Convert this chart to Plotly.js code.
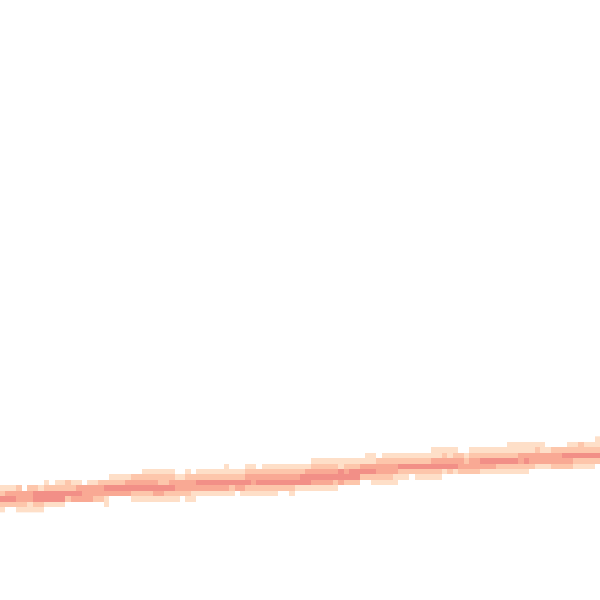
<!DOCTYPE html>
<html>
<head>
<meta charset="utf-8">
<script src="https://cdn.plot.ly/plotly-3.0.1.min.js"></script>
<style>html,body{margin:0;padding:0;background:#fff;}#chart{width:600px;height:600px;}</style>
</head>
<body>
<div id="chart"></div>
<script>
// grid rows (top = 0) that contain data; 110 x 110 grid overall
const rowIndex = [80,81,82,83,84,85,86,87,88,89,90,91,92,93];
// density level per cell (0 empty .. 4 densest), 11 groups of 10 columns per row
const r80 = [[0,0,0,0,0,0,0,0,0,0],[0,0,0,0,0,0,0,0,0,0],[0,0,0,0,0,0,0,0,0,0],[0,0,0,0,0,0,0,0,0,0],[0,0,0,0,0,0,0,0,0,0],[0,0,0,0,0,0,0,0,0,0],[0,0,0,0,0,0,0,0,0,0],[0,0,0,0,0,0,0,0,0,0],[0,0,0,0,0,0,0,0,0,0],[0,0,0,0,0,0,0,0,0,0],[0,0,0,0,0,0,0,0,0,1]].flat();
const r81 = [[0,0,0,0,0,0,0,0,0,0],[0,0,0,0,0,0,0,0,0,0],[0,0,0,0,0,0,0,0,0,0],[0,0,0,0,0,0,0,0,0,0],[0,0,0,0,0,0,0,0,0,0],[0,0,0,0,0,0,0,0,0,0],[0,0,0,0,0,0,0,0,0,0],[0,0,0,0,0,0,0,0,0,0],[0,0,0,0,0,0,0,0,0,0],[0,0,0,1,1,1,1,1,1,1],[0,0,0,0,1,1,2,1,1,1]].flat();
const r82 = [[0,0,0,0,0,0,0,0,0,0],[0,0,0,0,0,0,0,0,0,0],[0,0,0,0,0,0,0,0,0,0],[0,0,0,0,0,0,0,0,0,0],[0,0,0,0,0,0,0,0,0,0],[0,0,0,0,0,0,0,0,0,0],[0,0,0,0,0,0,0,0,0,0],[0,0,0,0,0,0,0,0,0,1],[1,1,1,1,0,0,1,1,1,1],[1,1,1,1,1,1,1,1,2,1],[1,2,2,2,2,2,2,2,2,2]].flat();
const r83 = [[0,0,0,0,0,0,0,0,0,0],[0,0,0,0,0,0,0,0,0,0],[0,0,0,0,0,0,0,0,0,0],[0,0,0,0,0,0,0,0,0,0],[0,0,0,0,0,0,0,0,0,0],[0,0,0,0,0,0,0,0,0,0],[0,0,0,0,0,0,0,1,1,0],[1,1,1,1,1,1,1,1,1,1],[1,2,1,2,2,1,2,2,2,2],[2,2,2,2,2,3,3,3,3,3],[3,3,3,4,4,4,4,4,4,4]].flat();
const r84 = [[0,0,0,0,0,0,0,0,0,0],[0,0,0,0,0,0,0,0,0,0],[0,0,0,0,0,0,0,0,0,0],[0,0,0,0,0,0,0,0,0,0],[0,0,0,0,0,0,0,0,0,0],[0,0,0,0,0,0,0,1,1,1],[1,1,1,1,1,1,1,1,1,2],[2,2,2,2,2,2,2,2,2,3],[3,3,3,3,3,2,3,3,4,4],[4,4,4,4,4,3,4,3,3,3],[3,3,3,3,3,2,2,2,2,2]].flat();
const r85 = [[0,0,0,0,0,0,0,0,0,0],[0,0,0,0,0,0,0,0,0,0],[0,0,0,0,0,0,0,0,0,0],[0,0,0,0,0,0,0,0,0,0],[0,1,0,0,0,1,1,0,1,1],[1,1,1,1,1,1,1,2,2,2],[2,2,1,2,2,2,3,3,3,3],[3,3,3,4,4,4,4,4,4,4],[4,4,4,4,3,3,3,3,3,3],[3,2,2,2,2,2,2,2,1,1],[1,2,2,2,2,1,1,1,1,0]].flat();
const r86 = [[0,0,0,0,0,0,0,0,0,0],[0,0,0,0,0,0,0,0,0,0],[0,0,0,0,0,0,1,1,1,1],[1,1,0,0,1,0,1,1,1,1],[1,1,1,1,1,2,2,2,2,2],[2,2,2,2,2,2,3,3,3,3],[3,3,4,3,4,4,4,4,4,3],[3,3,3,2,2,2,2,2,2,2],[2,1,2,1,2,2,2,2,1,1],[1,1,1,1,1,1,1,0,0,0],[0,0,0,0,0,0,0,0,0,0]].flat();
const r87 = [[0,0,0,0,0,0,0,0,0,0],[0,0,0,0,0,0,0,0,0,0],[1,1,1,1,2,2,2,2,2,2],[2,2,1,1,2,2,2,2,2,2],[2,2,2,2,2,3,3,3,3,3],[3,3,3,3,3,4,4,4,4,4],[4,4,4,4,4,4,2,2,2,2],[2,2,1,1,1,0,1,1,1,1],[1,0,0,0,0,0,0,0,0,0],[0,0,0,0,0,0,0,0,0,0],[0,0,0,0,0,0,0,0,0,0]].flat();
const r88 = [[0,0,0,0,0,0,0,0,1,0],[1,1,2,1,1,0,1,1,2,2],[2,2,2,3,3,3,3,3,3,2],[2,3,3,3,3,3,4,4,4,4],[4,4,4,4,4,4,3,4,4,4],[4,4,4,4,4,4,4,3,3,3],[3,2,3,2,2,2,0,0,1,1],[1,1,1,0,0,0,0,0,0,0],[0,0,0,0,0,0,0,0,0,0],[0,0,0,0,0,0,0,0,0,0],[0,0,0,0,0,0,0,0,0,0]].flat();
const r89 = [[1,1,1,2,0,2,2,1,2,2],[2,2,2,2,3,3,3,3,3,4],[4,4,4,4,4,4,4,4,4,4],[4,4,3,3,3,3,3,3,3,3],[3,3,2,3,3,2,2,2,2,2],[2,2,2,2,1,1,1,1,1,1],[1,1,0,0,0,0,0,0,0,0],[0,0,0,0,0,0,0,0,0,0],[0,0,0,0,0,0,0,0,0,0],[0,0,0,0,0,0,0,0,0,0],[0,0,0,0,0,0,0,0,0,0]].flat();
const r90 = [[2,3,3,3,3,3,4,4,4,4],[4,4,4,4,4,3,3,3,3,3],[3,3,3,3,2,2,2,2,3,3],[2,2,2,2,2,1,1,1,1,1],[1,1,1,0,1,1,1,1,1,1],[1,0,0,1,0,0,0,0,0,0],[0,0,0,0,0,0,0,0,0,0],[0,0,0,0,0,0,0,0,0,0],[0,0,0,0,0,0,0,0,0,0],[0,0,0,0,0,0,0,0,0,0],[0,0,0,0,0,0,0,0,0,0]].flat();
const r91 = [[4,4,4,3,3,3,4,4,4,4],[4,4,2,3,3,3,3,2,2,1],[0,0,0,0,1,1,1,1,1,1],[1,1,1,0,1,1,0,0,0,0],[0,0,0,0,0,0,0,0,0,0],[0,0,0,0,0,0,0,0,0,0],[0,0,0,0,0,0,0,0,0,0],[0,0,0,0,0,0,0,0,0,0],[0,0,0,0,0,0,0,0,0,0],[0,0,0,0,0,0,0,0,0,0],[0,0,0,0,0,0,0,0,0,0]].flat();
const r92 = [[2,2,2,2,2,1,2,2,1,1],[1,1,0,0,0,0,0,0,0,1],[0,0,0,0,0,0,0,0,0,0],[0,0,0,0,0,0,0,0,0,0],[0,0,0,0,0,0,0,0,0,0],[0,0,0,0,0,0,0,0,0,0],[0,0,0,0,0,0,0,0,0,0],[0,0,0,0,0,0,0,0,0,0],[0,0,0,0,0,0,0,0,0,0],[0,0,0,0,0,0,0,0,0,0],[0,0,0,0,0,0,0,0,0,0]].flat();
const r93 = [[1,0,0,1,1,1,1,1,0,0],[0,0,0,0,0,0,0,0,0,0],[0,0,0,0,0,0,0,0,0,0],[0,0,0,0,0,0,0,0,0,0],[0,0,0,0,0,0,0,0,0,0],[0,0,0,0,0,0,0,0,0,0],[0,0,0,0,0,0,0,0,0,0],[0,0,0,0,0,0,0,0,0,0],[0,0,0,0,0,0,0,0,0,0],[0,0,0,0,0,0,0,0,0,0],[0,0,0,0,0,0,0,0,0,0]].flat();

const levels = [r80,r81,r82,r83,r84,r85,r86,r87,r88,r89,r90,r91,r92,r93];
const levelColors = ['#ffffff','#fedfc8','#fdc6ab','#f9a994','#f28f87'];

const n = levelColors.length;
const cs = [];
levelColors.forEach((c,i)=>{ cs.push([i/n, c]); cs.push([(i+1)/n, c]); });

Plotly.newPlot('chart', [{
  type: 'heatmap',
  z: levels,
  y: rowIndex,
  x0: 0, dx: 1,
  zmin: -0.5, zmax: n - 0.5,
  colorscale: cs,
  showscale: false,
  zsmooth: false,
  hoverinfo: 'skip'
}], {
  width: 600, height: 600,
  margin: {l:0, r:0, t:0, b:0, pad:0},
  paper_bgcolor: '#ffffff', plot_bgcolor: '#ffffff',
  xaxis: {visible: false, range: [-0.5, 109.5], fixedrange: true},
  yaxis: {visible: false, range: [109.5, -0.5], fixedrange: true},
  showlegend: false
}, {displayModeBar: false, staticPlot: true});
</script>
</body>
</html>
